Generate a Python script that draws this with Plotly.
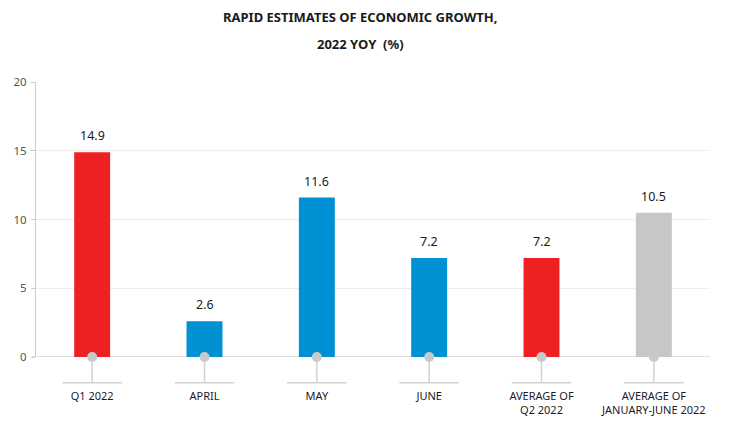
import plotly.graph_objects as go

categories = ["Q1 2022", "APRIL", "MAY", "JUNE", "AVERAGE OF<br>Q2 2022", "AVERAGE OF<br>JANUARY-JUNE 2022"]
values = [14.9, 2.6, 11.6, 7.2, 7.2, 10.5]
value_labels = ["14.9", "2.6", "11.6", "7.2", "7.2", "10.5"]
bar_colors = ["#ee2024", "#0091d5", "#0091d5", "#0091d5", "#ee2024", "#c6c7c9"]
y_ticks = [0, 5, 10, 15, 20]
title_lines = ["<b>RAPID ESTIMATES OF ECONOMIC GROWTH,</b>", "<b>2022 YOY  (%)</b>"]

x_pos = list(range(len(categories)))

fig = go.Figure()
fig.add_trace(go.Bar(x=x_pos, y=values, width=0.32, marker=dict(color=bar_colors, line=dict(width=0)),
                     hoverinfo="skip"))
fig.add_trace(go.Scatter(x=x_pos, y=[0]*len(x_pos), mode="markers", cliponaxis=False,
                         marker=dict(size=10, color="#c8c9cb"), hoverinfo="skip"))

for xi, v, t in zip(x_pos, values, value_labels):
    fig.add_annotation(x=xi, y=v, text=t, showarrow=False, yanchor="bottom", yshift=6,
                       font=dict(size=12.5, color="#1a1a1a", family="Noto Sans"))

# connector lines below the axis
for xi in x_pos:
    fig.add_shape(type="line", xref="x", yref="paper", x0=xi, x1=xi, y0=0, y1=-0.094,
                  line=dict(color="#d3d3d3", width=1.5), layer="below")
    fig.add_shape(type="line", xref="x", yref="paper", x0=xi - 0.265, x1=xi + 0.265, y0=-0.094, y1=-0.094,
                  line=dict(color="#d3d3d3", width=1.5), layer="below")

# title lines
for i, (line, ypix) in enumerate(zip(title_lines, [9, 36])):
    fig.add_annotation(xref="paper", yref="paper", x=0.481, y=1 + (74 - ypix) / 275,
                       xanchor="center", yanchor="middle", text=line, showarrow=False,
                       font=dict(size=13, color="#1a1a1a", family="Noto Sans"))

fig.update_layout(
    width=725, height=422,
    margin=dict(l=28, r=23, t=74, b=73, autoexpand=False),
    paper_bgcolor="white", plot_bgcolor="white",
    showlegend=False,
    xaxis=dict(range=[-0.5, 5.5], tickvals=x_pos, ticktext=categories, showgrid=False, automargin=False,
               zeroline=False, showline=False, ticks="", ticklabelstandoff=31,
               tickfont=dict(size=11, color="#1a1a2e", family="Noto Sans")),
    yaxis=dict(range=[0, 20], tickvals=y_ticks, showgrid=True, gridcolor="#eeeeee", gridwidth=1,
               zeroline=False, showline=True, linecolor="#cccccc", linewidth=1.2, automargin=False,
               ticks="outside", ticklen=4, tickcolor="#cccccc", ticklabelstandoff=2,
               tickfont=dict(size=11.5, color="#555555", family="Noto Sans")),
    font=dict(family="Noto Sans"),
)
# zero baseline
fig.add_shape(type="line", xref="paper", yref="y", x0=-0.006, x1=1, y0=0, y1=0,
              line=dict(color="#d3d3d3", width=1.5), layer="below")

fig.write_html("out.html")
